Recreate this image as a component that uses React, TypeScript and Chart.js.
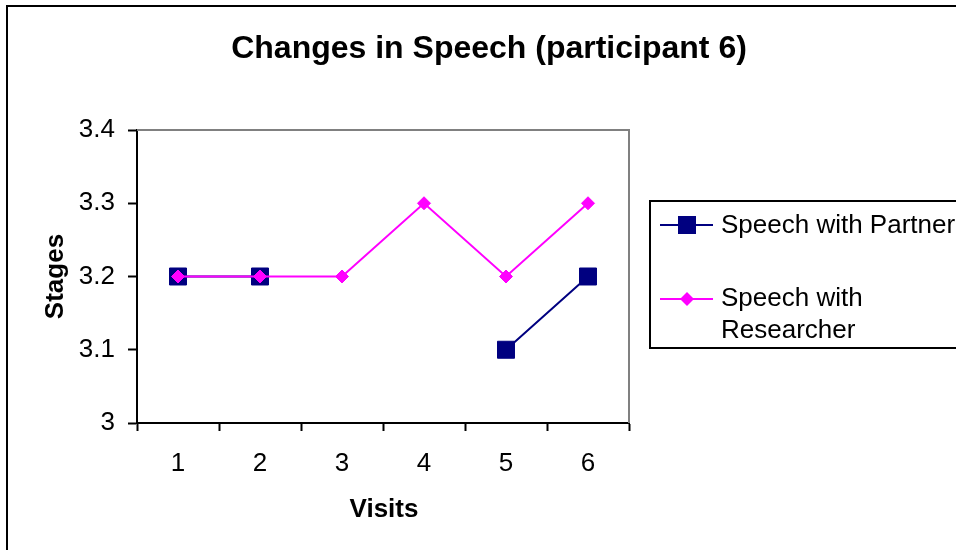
import React, { useEffect, useRef } from "react";
import { Chart, registerables } from "chart.js";

Chart.register(...registerables);

const chartTitle = "Changes in Speech (participant 6)";
const xTitle = "Visits";
const yTitle = "Stages";
const visits = ["1", "2", "3", "4", "5", "6"];
const partnerLabel = "Speech with Partner";
const researcherLabel = "Speech with Researcher";
const researcherLegendLines = ["Speech with", "Researcher"];
const partnerValues: (number | null)[] = [3.2, 3.2, null, null, 3.1, 3.2];
const researcherValues: number[] = [3.2, 3.2, 3.2, 3.3, 3.2, 3.3];
const yTicks = [3, 3.1, 3.2, 3.3, 3.4];

const NAVY = "#000080";
const MAGENTA = "#FF00FF";
const FONT = "'Liberation Sans', Arial, sans-serif";

const decorPlugin = {
  id: "decor",
  beforeDraw(chart: any) {
    const ctx = chart.ctx;
    ctx.save();
    ctx.fillStyle = "#ffffff";
    ctx.fillRect(0, 0, chart.width, chart.height);
    ctx.restore();
  },
  afterDatasetsDraw(chart: any) {
    const ctx = chart.ctx;
    const a = chart.chartArea;
    ctx.save();
    ctx.strokeStyle = "#808080";
    ctx.lineWidth = 2;
    ctx.beginPath();
    ctx.moveTo(a.left, a.top);
    ctx.lineTo(a.right, a.top);
    ctx.lineTo(a.right, a.bottom);
    ctx.stroke();
    ctx.restore();
  },
  afterDraw(chart: any) {
    const ctx = chart.ctx;
    const a = chart.chartArea;
    ctx.save();
    ctx.strokeStyle = "#000";
    ctx.lineWidth = 2;
    ctx.strokeRect(7, 6, 1000, 600);

    ctx.fillStyle = "#000";
    ctx.font = `bold 32px ${FONT}`;
    ctx.textAlign = "center";
    ctx.textBaseline = "alphabetic";
    ctx.fillText(chartTitle, 489, 58);

    ctx.font = `bold 26px ${FONT}`;
    ctx.fillText(xTitle, (a.left + a.right) / 2 + 1, 517);

    ctx.save();
    ctx.translate(63, (a.top + a.bottom) / 2);
    ctx.rotate(-Math.PI / 2);
    ctx.fillText(yTitle, 0, 0);
    ctx.restore();

    ctx.strokeStyle = "#000";
    ctx.lineWidth = 2;
    ctx.strokeRect(650, 201, 400, 147);

    const lx1 = 660, lx2 = 713, mx = 687, tx = 721;
    ctx.strokeStyle = NAVY;
    ctx.lineWidth = 2;
    ctx.beginPath();
    ctx.moveTo(lx1, 225);
    ctx.lineTo(lx2, 225);
    ctx.stroke();
    ctx.fillStyle = NAVY;
    ctx.fillRect(mx - 9, 225 - 9, 18, 18);
    ctx.strokeStyle = MAGENTA;
    ctx.beginPath();
    ctx.moveTo(lx1, 299);
    ctx.lineTo(lx2, 299);
    ctx.stroke();
    ctx.fillStyle = MAGENTA;
    ctx.beginPath();
    ctx.moveTo(mx - 7, 299);
    ctx.lineTo(mx, 292);
    ctx.lineTo(mx + 7, 299);
    ctx.lineTo(mx, 306);
    ctx.closePath();
    ctx.fill();

    ctx.fillStyle = "#000";
    ctx.font = `26px ${FONT}`;
    ctx.textAlign = "left";
    ctx.textBaseline = "middle";
    ctx.fillText(partnerLabel, tx, 226);
    ctx.fillText(researcherLegendLines[0], tx, 299);
    ctx.fillText(researcherLegendLines[1], tx, 331);
    ctx.restore();
  },
};

export default function App() {
  const ref = useRef<HTMLCanvasElement | null>(null);
  useEffect(() => {
    if (!ref.current) return;
    const chart = new Chart(ref.current, {
      type: "line",
      data: {
        labels: visits,
        datasets: [
          {
            label: partnerLabel,
            data: partnerValues,
            borderColor: NAVY,
            backgroundColor: NAVY,
            borderWidth: 2,
            pointStyle: "rect",
            pointRadius: 12,
            pointBorderWidth: 1,
            pointBorderColor: NAVY,
            pointBackgroundColor: NAVY,
            spanGaps: false,
            tension: 0,
            order: 2,
          },
          {
            label: researcherLabel,
            data: researcherValues,
            borderColor: MAGENTA,
            backgroundColor: MAGENTA,
            borderWidth: 2,
            pointStyle: "rectRot",
            pointRadius: 6.5,
            pointBorderWidth: 1,
            pointBorderColor: MAGENTA,
            pointBackgroundColor: MAGENTA,
            tension: 0,
            order: 1,
          },
        ],
      },
      plugins: [decorPlugin],
      options: {
        animation: false,
        responsive: false,
        devicePixelRatio: 1,
        layout: { padding: { top: 130, right: 327, left: 0, bottom: 0 } },
        plugins: {
          legend: { display: false },
          title: { display: false },
          tooltip: { enabled: false },
        },
        scales: {
          x: {
            type: "category",
            offset: true,
            afterFit: (s: any) => {
              s.height = 127;
            },
            grid: {
              offset: true,
              drawOnChartArea: false,
              drawTicks: true,
              tickLength: 8,
              color: "#000",
              tickWidth: 2,
            },
            border: { display: true, color: "#000", width: 2 },
            ticks: {
              color: "#000",
              padding: 17,
              font: { family: FONT, size: 26 },
              maxRotation: 0,
            },
          },
          y: {
            type: "linear",
            min: yTicks[0],
            max: yTicks[yTicks.length - 1],
            afterFit: (s: any) => {
              s.width = 137;
            },
            afterBuildTicks: (s: any) => {
              s.ticks = yTicks.map((v) => ({ value: v }));
            },
            grid: {
              drawOnChartArea: false,
              drawTicks: true,
              tickLength: 9,
              color: "#000",
              tickWidth: 2,
            },
            border: { display: true, color: "#000", width: 2 },
            ticks: {
              color: "#000",
              padding: 13,
              font: { family: FONT, size: 26 },
              callback: (v: any) => String(Number(Number(v).toFixed(1))),
            },
          },
        },
      },
    });
    return () => chart.destroy();
  }, []);
  return (
    <div style={{ position: "absolute", left: 0, top: 0, width: 956, height: 550 }}>
      <canvas ref={ref} width={956} height={550} style={{ display: "block" }} />
    </div>
  );
}
